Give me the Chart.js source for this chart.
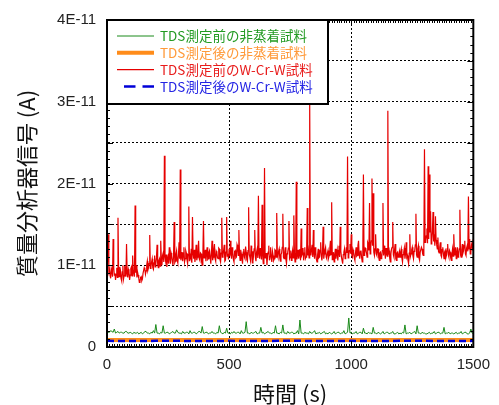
<!DOCTYPE html>
<html>
<head>
<meta charset="utf-8">
<script src="https://cdn.jsdelivr.net/npm/chart.js@4.4.0/dist/chart.umd.min.js"></script>
<style>
  html, body { margin: 0; padding: 0; background: #fff; }
  #wrap { width: 499px; height: 405px; }
</style>
</head>
<body>
<div id="wrap"><canvas id="tdsChart" width="499" height="405"></canvas></div>
<script>
// signal values are written in units of 1E-11 A
const UNIT = 1e-11;
const STEP_RED = 2.5;   // s between samples
const STEP_GREEN = 5;
const STEP_FLAT = 100;

const seriesLabels = [
  'TDS測定前の非蒸着試料',
  'TDS測定後の非蒸着試料',
  'TDS測定前のW-Cr-W試料',
  'TDS測定後のW-Cr-W試料'
];

const xTicks = [0, 500, 1000, 1500];
const yGrid = [0, 0.5, 1, 1.5, 2, 2.5, 3, 3.5, 4];

// TDS before, W-Cr-W sample (every 2.5 s)
const redBefore = [
  1.05,1.20,1.38,0.92,0.95,0.88,0.84,0.96,0.93,0.86,1.32,0.97,0.88,0.90,0.82,0.89,0.97,0.85,1.58,0.93,0.86,0.98,0.94,0.84,0.81,0.92,1.00,0.83,0.87,0.99,0.95,0.86,1.26,0.90,0.85,0.95,0.92,0.82,0.88,0.96,
  0.98,0.87,1.12,0.94,0.90,0.86,1.73,0.91,1.00,0.85,0.92,0.88,0.84,0.79,0.80,0.85,0.86,0.81,0.83,0.90,0.90,0.97,0.95,0.89,0.93,1.00,1.05,0.94,0.97,1.02,1.37,0.96,0.98,1.04,1.08,0.97,0.95,1.03,1.12,0.98,
  1.02,1.09,1.25,1.01,0.97,1.06,1.08,0.99,1.30,1.07,1.00,1.12,1.15,1.04,2.34,1.10,1.05,1.13,0.98,1.06,1.10,1.02,1.22,1.09,1.02,1.15,1.12,1.05,1.00,1.11,1.53,1.03,1.05,1.14,1.18,1.06,1.03,1.12,1.28,1.08,
  2.17,1.06,1.10,1.16,1.05,1.12,1.22,1.04,1.08,1.18,1.15,1.07,1.02,1.13,1.72,1.05,1.12,1.09,1.20,1.03,1.59,1.14,1.08,1.19,1.04,1.11,1.25,1.06,1.10,1.17,1.30,1.08,1.06,1.15,1.14,1.04,1.00,1.12,1.54,1.09,
  1.12,1.19,1.05,1.13,1.22,1.07,1.08,1.16,1.18,1.10,1.02,1.14,1.30,1.06,1.10,1.20,1.26,1.08,1.05,1.17,1.15,1.09,1.08,1.21,1.20,1.07,1.04,1.15,1.58,1.10,1.12,1.18,1.25,1.05,1.06,1.16,1.59,1.11,1.14,1.07,
  1.20,1.11,1.30,1.14,1.08,1.22,1.15,1.07,1.04,1.17,1.18,1.09,1.10,1.25,1.22,1.12,1.43,1.15,1.06,1.19,1.14,1.08,1.02,1.16,1.20,1.10,1.08,1.23,1.16,1.07,1.05,1.18,1.71,1.13,1.10,1.06,1.24,1.15,1.03,1.17,
  1.12,1.20,1.43,1.10,1.05,1.16,1.20,1.09,1.85,1.14,1.08,1.21,1.14,1.07,1.74,1.12,1.02,1.18,2.19,1.09,1.10,1.15,1.00,1.12,1.16,1.24,1.06,1.11,1.22,1.08,1.04,1.17,1.12,1.06,1.08,1.19,1.18,1.10,1.64,1.13,
  1.10,1.17,1.20,1.09,1.05,1.13,1.15,1.22,1.63,1.10,1.08,1.16,1.22,1.07,1.02,1.14,1.16,1.21,1.54,1.08,1.10,1.18,1.06,1.12,1.18,1.09,1.61,1.15,1.04,1.11,2.02,1.07,1.12,1.19,1.08,1.14,1.20,1.06,1.45,1.12,
  1.14,1.21,1.06,1.15,1.22,1.08,1.10,1.17,1.70,1.12,1.18,1.09,3.02,1.16,1.12,1.20,1.25,1.10,1.43,1.14,1.08,1.22,1.16,1.07,1.04,1.13,1.20,1.09,1.10,1.18,1.28,1.11,1.06,1.16,1.47,1.08,1.14,1.19,1.22,1.10,
  1.08,1.15,1.18,1.09,1.12,1.21,1.30,1.13,1.77,1.07,1.10,1.16,1.04,1.12,1.20,1.08,1.14,1.19,1.06,1.14,1.24,1.10,1.47,1.17,1.10,1.06,1.02,1.13,1.16,1.20,1.08,1.11,1.22,1.15,2.33,1.09,1.12,1.18,1.26,1.14,
  1.38,1.12,1.10,1.19,1.16,1.09,1.06,1.15,1.22,1.11,1.12,1.24,1.30,1.13,1.08,1.17,1.18,1.10,1.04,1.16,2.11,1.12,1.14,1.21,1.20,1.15,1.10,1.28,1.26,1.18,1.76,1.14,1.22,1.30,2.06,1.24,1.88,1.16,1.12,1.20,
  1.38,1.14,1.12,1.20,1.20,1.10,1.06,1.15,1.16,1.08,1.10,1.18,1.76,1.12,1.24,1.16,1.08,1.21,1.14,1.11,2.89,1.15,1.18,1.09,1.04,1.14,1.20,1.22,1.53,1.13,1.10,1.19,1.26,1.08,1.06,1.15,1.16,1.10,1.12,1.17,
  1.10,1.16,1.20,1.09,1.04,1.13,1.16,1.21,1.08,1.14,1.28,1.10,1.12,1.06,1.02,1.15,1.38,1.11,1.14,1.19,1.22,1.12,1.08,1.17,1.18,1.25,1.63,1.13,1.10,1.20,1.24,1.09,1.06,1.16,1.16,1.22,1.20,1.14,1.12,1.26,
  2.42,1.28,1.30,1.36,1.45,1.27,2.21,1.32,2.11,1.40,1.66,1.26,1.30,1.42,1.65,1.29,1.38,1.24,1.60,1.31,1.25,1.20,1.34,1.17,1.15,1.22,1.28,1.12,1.10,1.19,1.22,1.14,1.08,1.16,1.18,1.09,1.12,1.20,1.26,1.13,
  1.10,1.18,1.16,1.09,1.06,1.14,1.20,1.11,1.38,1.17,1.12,1.22,1.08,1.15,1.22,1.10,1.14,1.20,1.68,1.13,1.10,1.19,1.26,1.15,1.18,1.24,1.30,1.14,1.12,1.21,1.24,1.17,1.84,1.20,1.32,1.14,1.16,1.25,1.28,1.18,
  1.22
];

// TDS before, non-coated sample (every 5 s)
const greenBefore = [
  0.19,0.18,0.18,0.20,0.19,0.18,0.22,0.17,0.18,0.19,0.17,0.18,0.18,0.17,0.17,0.19,0.19,0.17,0.17,0.18,
  0.17,0.16,0.18,0.17,0.17,0.18,0.16,0.17,0.18,0.16,0.17,0.19,0.19,0.17,0.17,0.16,0.18,0.17,0.20,0.17,
  0.275,0.17,0.17,0.16,0.18,0.17,0.26,0.17,0.17,0.18,0.18,0.16,0.17,0.18,0.19,0.17,0.17,0.21,0.18,0.17,
  0.17,0.16,0.19,0.17,0.17,0.18,0.18,0.16,0.20,0.17,0.17,0.18,0.18,0.16,0.17,0.19,0.19,0.17,0.25,0.17,
  0.17,0.18,0.18,0.16,0.17,0.17,0.19,0.17,0.17,0.16,0.18,0.17,0.26,0.18,0.17,0.16,0.18,0.17,0.23,0.17,
  0.17,0.16,0.18,0.17,0.19,0.17,0.17,0.18,0.18,0.16,0.20,0.17,0.17,0.18,0.31,0.17,0.17,0.16,0.18,0.17,
  0.17,0.18,0.19,0.16,0.17,0.17,0.24,0.17,0.18,0.16,0.17,0.18,0.19,0.17,0.17,0.16,0.18,0.17,0.26,0.17,
  0.17,0.16,0.18,0.17,0.27,0.17,0.17,0.16,0.19,0.17,0.17,0.18,0.18,0.16,0.17,0.17,0.20,0.16,0.33,0.17,
  0.17,0.16,0.18,0.17,0.17,0.16,0.19,0.17,0.17,0.18,0.20,0.16,0.17,0.17,0.18,0.16,0.17,0.18,0.19,0.16,
  0.17,0.16,0.18,0.17,0.16,0.17,0.19,0.16,0.17,0.18,0.18,0.16,0.17,0.17,0.20,0.16,0.17,0.18,0.355,0.17,
  0.18,0.16,0.17,0.17,0.19,0.16,0.17,0.18,0.18,0.16,0.23,0.17,0.17,0.16,0.18,0.17,0.17,0.16,0.24,0.17,
  0.17,0.16,0.18,0.17,0.16,0.17,0.19,0.16,0.17,0.18,0.18,0.16,0.17,0.17,0.19,0.16,0.16,0.17,0.18,0.16,
  0.17,0.16,0.18,0.17,0.27,0.16,0.17,0.17,0.18,0.16,0.17,0.18,0.19,0.16,0.26,0.17,0.17,0.16,0.18,0.17,
  0.17,0.16,0.16,0.17,0.18,0.16,0.17,0.17,0.19,0.16,0.17,0.18,0.18,0.16,0.17,0.17,0.24,0.16,0.17,0.17,
  0.18,0.16,0.17,0.17,0.16,0.17,0.18,0.16,0.17,0.17,0.19,0.16,0.17,0.18,0.18,0.16,0.16,0.17,0.22,0.17,
  0.17
];

// TDS after, non-coated and W-Cr-W (every 100 s)
const orangeAfter = [0.086,0.085,0.086,0.085,0.085,0.086,0.085,0.085,0.086,0.085,0.085,0.086,0.085,0.085,0.086,0.085];
const blueAfter   = [0.075,0.074,0.075,0.075,0.074,0.075,0.074,0.075,0.075,0.074,0.075,0.074,0.075,0.075,0.074,0.075];

const lineColors = ['#1a8a1a', '#ff8c1a', '#e60000', '#0000d8'];
const textColors = ['#229a22', '#ff9a3a', '#e81c1c', '#2424e4'];

const toPoints = (arr, step) => arr.map((v, i) => ({ x: i * step, y: v * UNIT }));

const tickFont = { family: "'Liberation Sans', Arial, sans-serif", size: 15 };
const titleFont = { family: "'Noto Sans CJK JP', sans-serif", size: 22, lineHeight: 1 };

const edgeless = (lo, hi) => ctx =>
  (ctx.tick && (ctx.tick.value <= lo || ctx.tick.value >= hi)) ? 'rgba(0,0,0,0)' : '#000';

// thick frame and small inward ticks on every side
const frame = {
  id: 'frame',
  afterDatasetsDraw(chart) {
    const { ctx, chartArea: a, scales: { x, y } } = chart;
    ctx.save();
    ctx.strokeStyle = '#000';
    ctx.lineWidth = 1;
    ctx.beginPath();
    for (let t = 0; t <= 1500; t += 10) {
      const px = Math.round(x.getPixelForValue(t)) + 0.5;
      const len = t % 500 === 0 ? 6 : 3;
      ctx.moveTo(px, a.bottom); ctx.lineTo(px, a.bottom - len);
      ctx.moveTo(px, a.top); ctx.lineTo(px, a.top + len);
    }
    for (let k = 0; k <= 40; k++) {
      const py = Math.round(y.getPixelForValue(k * 0.1 * UNIT)) + 0.5;
      const len = k % 5 === 0 ? 6 : 3;
      ctx.moveTo(a.left, py); ctx.lineTo(a.left + len, py);
      ctx.moveTo(a.right, py); ctx.lineTo(a.right - len, py);
    }
    ctx.stroke();
    ctx.lineWidth = 2;
    ctx.strokeRect(a.left, a.top, a.right - a.left, a.bottom - a.top);
    ctx.restore();
  }
};

// legend box sitting inside the plot, top-left
const boxLegend = {
  id: 'boxLegend',
  afterDraw(chart) {
    const { ctx, chartArea: a } = chart;
    const x0 = a.left, y0 = a.top;
    ctx.save();
    ctx.fillStyle = '#fff';
    ctx.fillRect(x0, y0, 221, 84);
    ctx.lineWidth = 2;
    ctx.strokeStyle = '#000';
    ctx.strokeRect(x0, y0, 221, 84);
    ctx.font = "13.5px 'Noto Sans CJK JP', sans-serif";
    ctx.textBaseline = 'middle';
    chart.data.datasets.forEach((ds, i) => {
      const ly = y0 + 16 + i * 16.8;
      ctx.beginPath();
      ctx.strokeStyle = ds.borderColor;
      ctx.lineWidth = ds.borderWidth;
      ctx.setLineDash(ds.borderDash ? [11.5, 7] : []);
      ctx.moveTo(x0 + 47, ly);
      ctx.lineTo(x0 + 10, ly);
      ctx.stroke();
      ctx.setLineDash([]);
      ctx.fillStyle = textColors[i];
      ctx.fillText(ds.label, x0 + 53, ly);
    });
    ctx.restore();
  }
};

new Chart(document.getElementById('tdsChart'), {
  type: 'line',
  data: {
    datasets: [
      { label: seriesLabels[0], data: toPoints(greenBefore, STEP_GREEN), borderColor: lineColors[0], borderWidth: 1, order: 2 },
      { label: seriesLabels[1], data: toPoints(orangeAfter, STEP_FLAT), borderColor: lineColors[1], borderWidth: 4, order: 1 },
      { label: seriesLabels[2], data: toPoints(redBefore, STEP_RED), borderColor: lineColors[2], borderWidth: 1.2, order: 3 },
      { label: seriesLabels[3], data: toPoints(blueAfter, STEP_FLAT), borderColor: lineColors[3], borderWidth: 2.5, borderDash: [7, 4], order: 0 }
    ]
  },
  options: {
    responsive: false,
    animation: false,
    layout: { padding: { top: 17, right: 18, left: 0, bottom: 0 } },
    elements: { point: { radius: 0 }, line: { tension: 0, fill: false } },
    plugins: { legend: { display: false }, tooltip: { enabled: false } },
    scales: {
      x: {
        type: 'linear',
        min: 0,
        max: 1500,
        afterFit: s => { s.height = 58; },
        afterBuildTicks: s => { s.ticks = xTicks.map(v => ({ value: v })); },
        ticks: { font: tickFont, color: '#222', padding: 9, maxRotation: 0, callback: v => String(v) },
        grid: { color: edgeless(0, 1500), lineWidth: 1, drawTicks: false },
        border: { display: true, color: '#000', width: 2, dash: [2, 2] },
        title: { display: true, text: '時間 (s)', font: titleFont, color: '#111', padding: { top: 0, bottom: 0 } }
      },
      y: {
        type: 'linear',
        min: 0,
        max: 4 * UNIT,
        afterFit: s => { s.width = 107; },
        afterBuildTicks: s => { s.ticks = yGrid.map(v => ({ value: v * UNIT })); },
        ticks: {
          font: tickFont,
          color: '#222',
          padding: 11,
          callback: v => {
            const n = Math.round(v / (0.1 * UNIT));
            if (n % 10 !== 0) return '';
            return n === 0 ? '0' : (n / 10) + 'E-11';
          }
        },
        grid: { color: edgeless(0, 4 * UNIT), lineWidth: 1, drawTicks: false },
        border: { display: true, color: '#000', width: 2, dash: [2, 2] },
        title: { display: true, text: '質量分析器信号 (A)', font: titleFont, color: '#111', padding: { top: 16, bottom: 0 } }
      }
    }
  },
  plugins: [frame, boxLegend]
});
</script>
</body>
</html>
